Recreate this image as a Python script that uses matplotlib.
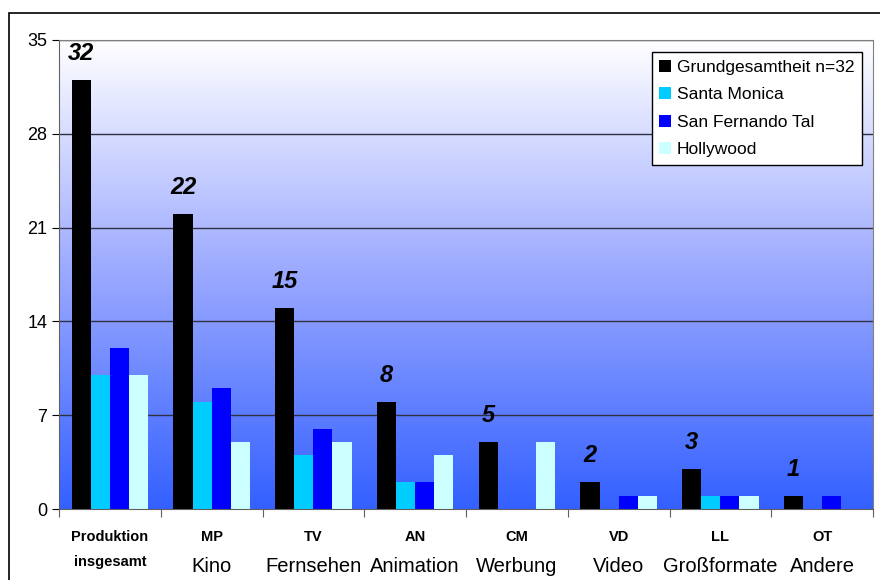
import matplotlib

matplotlib.use("Agg")

import matplotlib.pyplot as plt
import numpy as np
from matplotlib.colors import LinearSegmentedColormap
from matplotlib.patches import Rectangle

plt.rcParams["font.family"] = ["Liberation Sans", "DejaVu Sans"]

# --- data ---
codes = ["Produktion\ninsgesamt", "MP", "TV", "AN", "CM", "VD", "LL", "OT"]
names = ["", "Kino", "Fernsehen", "Animation", "Werbung", "Video", "Großformate", "Andere"]
series_names = ["Grundgesamtheit n=32", "Santa Monica", "San Fernando Tal", "Hollywood"]
grund = [32, 22, 15, 8, 5, 2, 3, 1]
santa_monica = [10, 8, 4, 2, 0, 0, 1, 0]
san_fernando = [12, 9, 6, 2, 0, 1, 1, 1]
hollywood = [10, 5, 5, 4, 5, 1, 1, 0]
y_ticks = [0, 7, 14, 21, 28, 35]

colors = ["#000000", "#00ccff", "#0000ff", "#ccffff"]
series = [grund, santa_monica, san_fernando, hollywood]

fig = plt.figure(figsize=(8.8, 5.8), dpi=100)
ax = fig.add_axes([59 / 880, 1 - 509 / 580, (873 - 59) / 880, (509 - 40) / 580])

n = len(codes)
x = np.arange(n)
width = 0.1875

# gradient background, white at top to blue at bottom
cmap = LinearSegmentedColormap.from_list("bg", ["#3360ff", "#9aa8ff", "#ffffff"])
grad = np.linspace(0, 1, 256).reshape(-1, 1)
ax.imshow(grad, cmap=cmap, aspect="auto", origin="lower",
          extent=(-0.5, n - 0.5, 0, 35), zorder=0)

for yt in y_ticks[1:]:
    ax.axhline(yt, color="#303040", linewidth=1.0, zorder=1)

for i, (vals, col, lab) in enumerate(zip(series, colors, series_names)):
    ax.bar(x + (i - 1.5) * width, vals, width, color=col, label=lab,
           linewidth=0, zorder=2)

for xi, v in zip(x, grund):
    ax.text(xi - 1.5 * width, v + 1.1, str(v), ha="center", va="bottom",
            fontsize=17, fontweight="bold", fontstyle="italic", zorder=3)

ax.set_xlim(-0.5, n - 0.5)
ax.set_ylim(0, 35)
ax.set_yticks(y_ticks)
ax.tick_params(axis="y", labelsize=13, length=5, direction="out")
ax.set_xticks(np.arange(n + 1) - 0.5)
ax.set_xticklabels([])
ax.tick_params(axis="x", length=6, direction="out", color="#606060")
for side in ["top", "right"]:
    ax.spines[side].set_color("#808080")
ax.spines["left"].set_color("#606060")
ax.spines["bottom"].set_color("#606060")

trans = ax.get_xaxis_transform()
for xi, code, name in zip(x, codes, names):
    if "\n" in code:
        top, bottom = code.split("\n")
        ax.text(xi, -0.06, top, transform=trans, ha="center", va="center",
                fontsize=10.5, fontweight="bold")
        ax.text(xi, -0.113, bottom, transform=trans, ha="center", va="center",
                fontsize=10.5, fontweight="bold")
    else:
        ax.text(xi, -0.06, code, transform=trans, ha="center", va="center",
                fontsize=10.5, fontweight="bold")
        ax.text(xi, -0.122, name, transform=trans, ha="center", va="center",
                fontsize=14.5)

leg = ax.legend(loc="upper right",
                bbox_to_anchor=(1 - 11 / 814, 1 - 12 / 469), fontsize=12.5,
                frameon=True, fancybox=False, framealpha=1, edgecolor="black",
                handlelength=0.65, handleheight=0.65, handletextpad=0.35,
                labelspacing=0.72, borderpad=0.45, borderaxespad=0)
leg.get_frame().set_linewidth(1.0)
leg.set_zorder(5)

# outer chart frame
fig.patches.append(Rectangle((9 / 880, -0.05), 1.1, 1 - 13 / 580 + 0.05,
                             transform=fig.transFigure, fill=False,
                             edgecolor="black", linewidth=1.2))

fig.savefig("out.png", dpi=100)
